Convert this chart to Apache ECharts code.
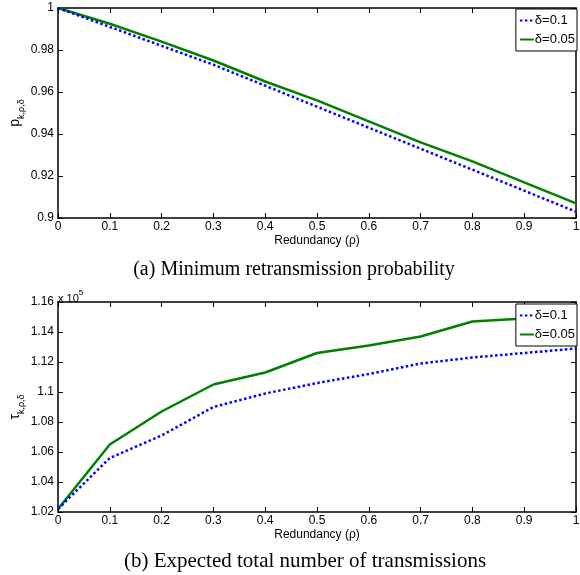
<!DOCTYPE html>
<html>
<head>
<meta charset="utf-8">
<script src="https://cdn.jsdelivr.net/npm/echarts@6/dist/echarts.min.js"></script>
<style>
  html, body { margin: 0; padding: 0; background: #fff; }
  #chart { width: 580px; height: 575px; }
</style>
</head>
<body>
<div id="chart"></div>
<script>
  // redundancy values (x)
  var rho = [0, 0.1, 0.2, 0.3, 0.4, 0.5, 0.6, 0.7, 0.8, 0.9, 1];
  var seriesNames = ['δ=0.1', 'δ=0.05'];

  // (a) minimum retransmission probability
  var probD01 = [1, 0.991, 0.982, 0.973, 0.963, 0.953, 0.943, 0.933, 0.923, 0.913, 0.903];
  var probD005 = [1, 0.9925, 0.984, 0.975, 0.965, 0.956, 0.946, 0.936, 0.927, 0.917, 0.907];

  // (b) expected total transmissions (x 10^5)
  var transD01 = [1.022, 1.056, 1.071, 1.090, 1.099, 1.106, 1.112, 1.119, 1.123, 1.126, 1.129];
  var transD005 = [1.022, 1.065, 1.087, 1.105, 1.113, 1.126, 1.131, 1.137, 1.147, 1.149, 1.151];

  var captions = ['(a) Minimum retransmission probability', '(b) Expected total number of transmissions'];
  var yNames = ['{a|p}{b|k,ρ,δ}', '{a|τ}{b|k,ρ,δ}'];

  function pairs(xs, ys) {
    return xs.map(function (x, i) { return [x, ys[i]]; });
  }

  var fontAx = 'Liberation Sans, Arial, sans-serif';
  var fontCap = 'Liberation Serif, Times New Roman, serif';
  var black = '#000';

  function xAx(grid, pos, labels) {
    return {
      type: 'value', gridIndex: grid, position: pos, min: 0, max: 1, interval: 0.1,
      name: labels ? 'Redundancy (ρ)' : '', nameLocation: 'middle', nameGap: 17,
      nameTextStyle: { fontFamily: fontAx, fontSize: 12, color: black },
      axisLine: { show: true, onZero: false, lineStyle: { color: black, width: 1.5 } },
      axisTick: { show: true, inside: true, length: 5, lineStyle: { color: black } },
      axisLabel: { show: labels, fontFamily: fontAx, fontSize: 12, color: black, margin: 3 },
      splitLine: { show: false }
    };
  }

  function yAx(grid, pos, labels, min, max) {
    return {
      type: 'value', gridIndex: grid, position: pos, min: min, max: max, interval: 0.02,
      axisLine: { show: true, onZero: false, lineStyle: { color: black, width: 1.5 } },
      axisTick: { show: true, inside: true, length: 5, lineStyle: { color: black } },
      axisLabel: { show: labels, fontFamily: fontAx, fontSize: 12, color: black, margin: 4 },
      splitLine: { show: false }
    };
  }

  function yName(text, cy) {
    return {
      type: 'text', x: 17, y: cy, rotation: Math.PI / 2,
      style: {
        text: text, align: 'center', verticalAlign: 'middle',
        rich: {
          a: { fontFamily: fontAx, fontSize: 14, fill: black, verticalAlign: 'bottom', padding: [0, 0, 4, 0] },
          b: { fontFamily: fontAx, fontSize: 9, fill: black, verticalAlign: 'bottom' }
        }
      }
    };
  }

  function legendAt(top) {
    return {
      data: seriesNames, orient: 'vertical', right: 3, top: top,
      backgroundColor: '#fff', borderColor: black, borderWidth: 1, borderRadius: 0,
      padding: [5, 2, 5, 3], itemGap: 6, itemWidth: 14, itemHeight: 12,
      itemStyle: { opacity: 0 },
      textStyle: { fontFamily: fontAx, fontSize: 13, color: black, padding: [0, 0, 0, -4] }
    };
  }

  function line(name, data, xi, yi, dotted) {
    return {
      type: 'line', name: name, data: data, xAxisIndex: xi, yAxisIndex: yi,
      symbol: 'none', animation: false, z: dotted ? 3 : 2,
      lineStyle: dotted
        ? { color: '#0000ff', width: 2.5, type: [2.5, 2.5] }
        : { color: '#008000', width: 2.5, type: 'solid' },
      itemStyle: { color: dotted ? '#0000ff' : '#008000' }
    };
  }

  var chart = echarts.init(document.getElementById('chart'));
  chart.setOption({
    animation: false,
    grid: [
      { left: 58, top: 8, width: 518, height: 210, outerBoundsMode: 'none', containLabel: false },
      { left: 58, top: 302, width: 518, height: 210, outerBoundsMode: 'none', containLabel: false }
    ],
    xAxis: [xAx(0, 'bottom', true), xAx(0, 'top', false), xAx(1, 'bottom', true), xAx(1, 'top', false)],
    yAxis: [
      yAx(0, 'left', true, 0.9, 1), yAx(0, 'right', false, 0.9, 1),
      yAx(1, 'left', true, 1.02, 1.16), yAx(1, 'right', false, 1.02, 1.16)
    ],
    legend: [legendAt(9), legendAt(304)],
    series: [
      line(seriesNames[0], pairs(rho, probD01), 0, 0, true),
      line(seriesNames[1], pairs(rho, probD005), 0, 0, false),
      line(seriesNames[0], pairs(rho, transD01), 2, 2, true),
      line(seriesNames[1], pairs(rho, transD005), 2, 2, false)
    ],
    graphic: [
      yName(yNames[0], 113),
      yName(yNames[1], 407),
      {
        type: 'text', left: 58, top: 289,
        style: {
          text: '{a|x 10}{b|5}',
          rich: {
            a: { fontFamily: fontAx, fontSize: 11, fill: black, verticalAlign: 'top', padding: [4, 0, 0, 0] },
            b: { fontFamily: fontAx, fontSize: 8, fill: black, verticalAlign: 'top' }
          }
        }
      },
      {
        type: 'text', x: 294, y: 270,
        style: { text: captions[0], fontFamily: fontCap, fontSize: 20, fill: black, align: 'center', verticalAlign: 'middle' }
      },
      {
        type: 'text', x: 305, y: 561,
        style: { text: captions[1], fontFamily: fontCap, fontSize: 21, fill: black, align: 'center', verticalAlign: 'middle' }
      }
    ]
  });
</script>
</body>
</html>
